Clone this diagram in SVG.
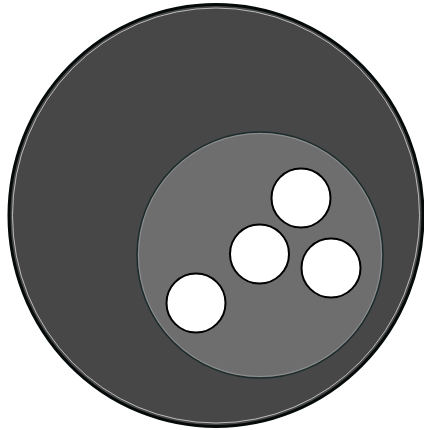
<svg xmlns="http://www.w3.org/2000/svg" width="424" height="430" viewBox="0 0 424 430">
<style>
.hole{fill:#ffffff;stroke:#000000;stroke-width:2}
</style>
<rect width="424" height="430" fill="#ffffff"/>
<g id="outer">
<ellipse cx="216" cy="215.5" rx="207" ry="211" fill="#474747" stroke="#050a0a" stroke-width="3"/>
<ellipse cx="216" cy="215.5" rx="203.5" ry="207.5" fill="none" stroke="#d8d8d8" stroke-width="1" opacity="0.8"/>
</g>
<g id="inner">
<circle cx="260" cy="255" r="123" fill="#6e6e6e" stroke="#1c2c2c" stroke-width="1.5"/>
<circle cx="260" cy="255" r="121.5" fill="none" stroke="#a8a8a8" stroke-width="0.8" opacity="0.7"/>
</g>
<g id="hole1"><circle class="hole" cx="301" cy="198" r="29.5"/></g>
<g id="hole2"><circle class="hole" cx="259.5" cy="254" r="29.5"/></g>
<g id="hole3"><circle class="hole" cx="331" cy="268" r="29.5"/></g>
<g id="hole4"><circle class="hole" cx="196" cy="303" r="29.5"/></g>
</svg>
